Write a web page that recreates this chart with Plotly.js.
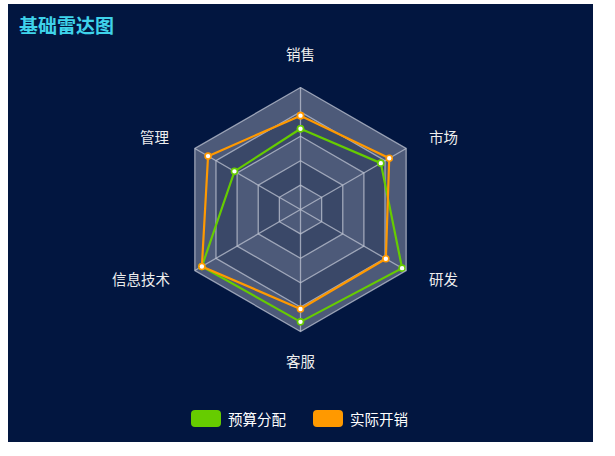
<!DOCTYPE html>
<html>
<head>
<meta charset="utf-8">
<script src="https://cdn.plot.ly/plotly-3.0.1.min.js"></script>
<style>
  html, body { margin: 0; padding: 0; background: #ffffff; }
  #chart { position: absolute; left: 8px; top: 4px; width: 585px; height: 438px; }
</style>
</head>
<body>
<div id="chart"></div>
<script>
// indicators, counter-clockwise from the top like the original
var indicators = ["销售", "管理", "信息技术", "客服", "研发", "市场"];
var maxValues = [6500, 16000, 30000, 38000, 52000, 25000];

var seriesNames = ["预算分配", "实际开销"];
var budget = [4300, 10000, 28000, 35000, 50000, 19000];
var spending = [5000, 14000, 28000, 31000, 42000, 21000];
var seriesColors = ["#66cc00", "#ff9900"];

var splitNumber = 5;

var W = 585, H = 438;
var gridColor = "rgba(190,195,210,0.75)";
var bandLight = "#4d5a79";
var bandDark = "#3a4868";
var labelFont = { family: "Noto Sans CJK SC", size: 14.5, color: "#eeeeee" };

// each indicator has its own max, so plot the share of the max
function toShare(values) {
  var r = values.map(function (v, i) { return v / maxValues[i]; });
  r.push(r[0]);
  return r;
}
var thetaClosed = indicators.concat([indicators[0]]);

var traces = [];

// split areas on the lower polar, outer ring first
for (var k = splitNumber; k >= 1; k--) {
  var lvl = k / splitNumber;
  traces.push({
    type: "scatterpolar",
    subplot: "polar",
    r: indicators.map(function () { return lvl; }),
    theta: indicators,
    mode: "lines",
    fill: "toself",
    fillcolor: (k % 2 === 1) ? bandLight : bandDark,
    line: { width: 0, color: "rgba(0,0,0,0)" },
    hoverinfo: "skip",
    showlegend: false
  });
}

// the two series on the upper polar, which also holds the grid
[budget, spending].forEach(function (vals, i) {
  traces.push({
    type: "scatterpolar",
    subplot: "polar2",
    name: seriesNames[i],
    r: toShare(vals),
    theta: thetaClosed,
    mode: "lines+markers",
    line: { color: seriesColors[i], width: 2.2 },
    marker: { symbol: "circle", size: 6, color: "#ffffff", line: { color: seriesColors[i], width: 1.6 } },
    showlegend: false
  });
});

var cx = 292.5, cy = 205.5, R = 122;
var dom = {
  x: [(cx - R) / W, (cx + R) / W],
  y: [(H - cy - R) / H, (H - cy + R) / H]
};

function polarAxes(showGrid, bg) {
  return {
    domain: dom,
    bgcolor: bg,
    gridshape: "linear",
    radialaxis: {
      range: [0, 1],
      dtick: 1 / splitNumber,
      showticklabels: false,
      ticks: "",
      showline: false,
      showgrid: showGrid,
      gridcolor: gridColor,
      gridwidth: 1.3
    },
    angularaxis: {
      type: "category",
      categoryarray: indicators,
      rotation: 90,
      direction: "counterclockwise",
      showgrid: showGrid,
      gridcolor: gridColor,
      gridwidth: 1.3,
      showline: showGrid,
      linecolor: gridColor,
      linewidth: 1.3,
      ticks: "",
      showticklabels: false
    }
  };
}

var annotations = [];

// indicator names placed just outside each spoke, aligned away from the centre
var nameGap = 20;
indicators.forEach(function (name, i) {
  var a = Math.PI / 2 + i * 2 * Math.PI / indicators.length;
  var c = Math.cos(a), s = Math.sin(a);
  var x = cx + (R + nameGap) * c;
  var y = cy - (R + nameGap) * s;
  var xa = "center", ya = "middle", xs = 0, ys = 2;
  if (c > 0.1) { xa = "left"; xs = 4; }
  else if (c < -0.1) { xa = "right"; xs = -6; }
  else if (s > 0) { ya = "bottom"; ys = 1; }
  else { ya = "top"; ys = 4; }
  annotations.push({
    xref: "paper", yref: "paper",
    x: x / W, y: 1 - y / H,
    xanchor: xa, yanchor: ya, xshift: xs, yshift: ys,
    text: name, showarrow: false,
    font: labelFont
  });
});

// legend drawn as rounded swatches + text
function roundRect(x0, y0, w, h, rad) {
  function px(x) { return (x / W).toFixed(5); }
  function py(y) { return (1 - y / H).toFixed(5); }
  var x1 = x0 + w, y1 = y0 + h;
  return "M" + px(x0 + rad) + "," + py(y0) +
    " L" + px(x1 - rad) + "," + py(y0) +
    " Q" + px(x1) + "," + py(y0) + " " + px(x1) + "," + py(y0 + rad) +
    " L" + px(x1) + "," + py(y1 - rad) +
    " Q" + px(x1) + "," + py(y1) + " " + px(x1 - rad) + "," + py(y1) +
    " L" + px(x0 + rad) + "," + py(y1) +
    " Q" + px(x0) + "," + py(y1) + " " + px(x0) + "," + py(y1 - rad) +
    " L" + px(x0) + "," + py(y0 + rad) +
    " Q" + px(x0) + "," + py(y0) + " " + px(x0 + rad) + "," + py(y0) + " Z";
}
var legendX = [183, 305];
var shapes = [];
seriesNames.forEach(function (name, i) {
  shapes.push({
    type: "path", xref: "paper", yref: "paper",
    path: roundRect(legendX[i], 406, 30, 17, 4),
    fillcolor: seriesColors[i],
    line: { width: 0 }
  });
  annotations.push({
    xref: "paper", yref: "paper",
    x: (legendX[i] + 35) / W, y: 1 - 414.5 / H,
    xanchor: "left", yanchor: "middle",
    text: name, showarrow: false,
    font: { family: "Noto Sans CJK SC", size: 14.5, color: "#ffffff" }
  });
});

var layout = {
  width: W,
  height: H,
  margin: { l: 0, r: 0, t: 0, b: 0 },
  paper_bgcolor: "#021640",
  title: {
    text: "基础雷达图",
    xref: "container", yref: "container",
    x: 11 / W, xanchor: "left",
    y: 1 - 22 / H, yanchor: "middle",
    font: { family: "Noto Sans CJK SC", size: 19, weight: 700, color: "#3fd3ea" }
  },
  polar: polarAxes(false, bandLight),
  polar2: polarAxes(true, "rgba(0,0,0,0)"),
  shapes: shapes,
  annotations: annotations,
  showlegend: false
};

Plotly.newPlot("chart", traces, layout, { staticPlot: true });
</script>
</body>
</html>
